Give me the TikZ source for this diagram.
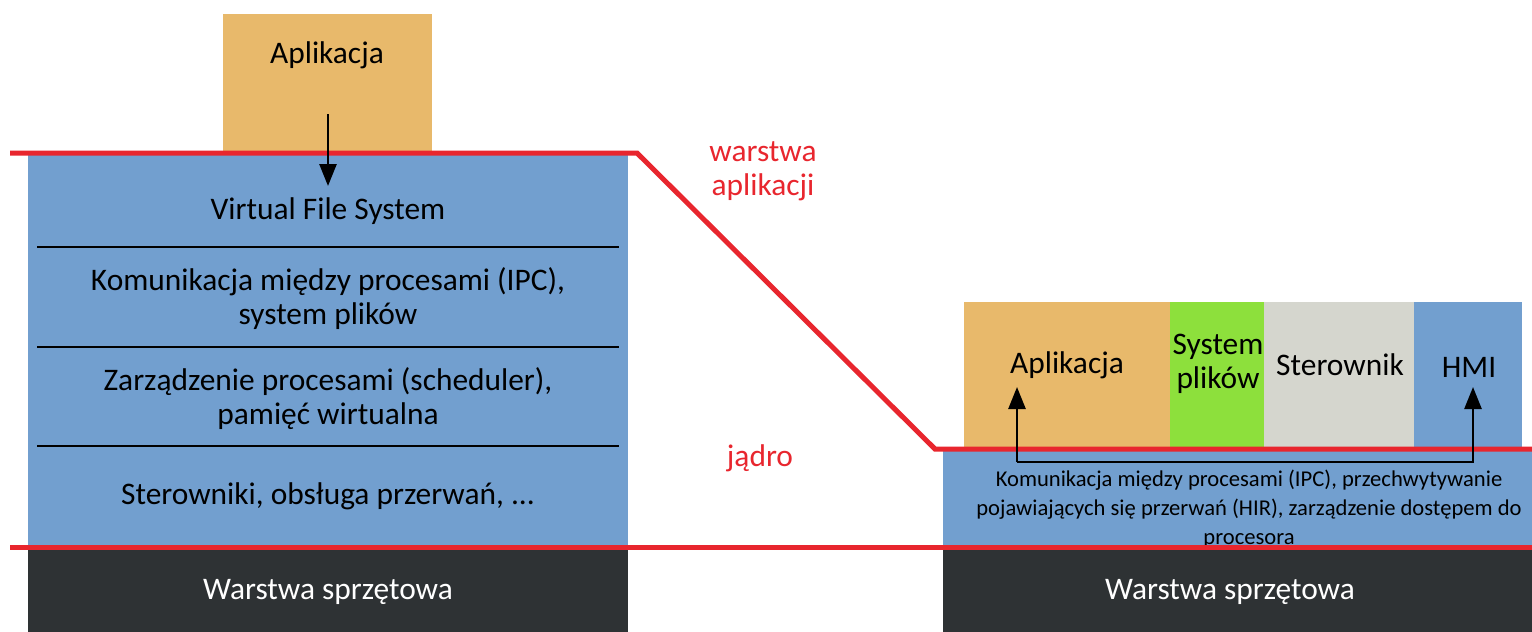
\documentclass[tikz,border=0pt]{standalone}
\usepackage{fontspec}
\setmainfont{Carlito}
\usetikzlibrary{arrows.meta}
\definecolor{appor}{HTML}{E8B96B}
\definecolor{kblue}{HTML}{729FCF}
\definecolor{fsgreen}{HTML}{8DE03C}
\definecolor{drvgray}{HTML}{D5D6CE}
\definecolor{hwdark}{HTML}{2E3234}
\definecolor{lred}{HTML}{E8262E}
\tikzset{
  blk/.style={draw=none, inner sep=0pt, outer sep=0pt, anchor=north west},
  txt/.style={font=\fontsize{15.7}{17}\selectfont, align=center, inner sep=1pt},
  smalltxt/.style={font=\fontsize{11.3}{14.5}\selectfont, align=center, inner sep=1pt},
  redtxt/.style={txt, text=lred},
  redline/.style={draw=lred, line width=2.5pt},
  sepline/.style={draw=black, line width=0.9pt},
  arr/.style={draw=black, line width=1.3pt, -{Triangle[length=11pt,width=8.5pt]}},
}
\begin{document}
\begin{tikzpicture}[x=0.5pt, y=-0.5pt]
\useasboundingbox (0,0) rectangle (1532,632);
% left column
\node[blk, fill=appor, minimum width=104.5pt, minimum height=69pt] (appbox) at (223,14) {};
\node[txt] (apptxt) at (327,55) {Aplikacja};
\node[blk, fill=kblue, minimum width=300pt, minimum height=196pt] (kernelL) at (28,153) {};
\node[blk, fill=hwdark, minimum width=300pt, minimum height=42pt] (hwL) at (28,548) {};
\node[txt, text=white] (hwLtxt) at (328,592) {Warstwa sprzętowa};
\node[txt] (vfs) at (328,211) {Virtual File System};
\node[txt] (ipc) at (328,299) {Komunikacja między procesami (IPC),\\system plików};
\node[txt] (sched) at (328,399) {Zarządzenie procesami (scheduler),\\pamięć wirtualna};
\node[txt] (drv) at (328,496) {Sterowniki, obsługa przerwań, ...};
\coordinate (s1a) at (37,247); \coordinate (s1b) at (619,247);
\coordinate (s2a) at (37,347); \coordinate (s2b) at (619,347);
\coordinate (s3a) at (37,446); \coordinate (s3b) at (619,446);
\draw[sepline] (s1a) -- (s1b);
\draw[sepline] (s2a) -- (s2b);
\draw[sepline] (s3a) -- (s3b);
% right column
\node[blk, fill=appor, minimum width=103pt, minimum height=74pt] (appR) at (964,302) {};
\node[blk, fill=fsgreen, minimum width=47pt, minimum height=74pt] (fsR) at (1170,302) {};
\node[blk, fill=drvgray, minimum width=75pt, minimum height=74pt] (drvR) at (1264,302) {};
\node[blk, fill=kblue, minimum width=54pt, minimum height=74pt] (hmiR) at (1414,302) {};
\node[txt] (appRtxt) at (1067,365) {Aplikacja};
\node[txt] (fsRtxt) at (1218,364) {System\\plików};
\node[txt] (drvRtxt) at (1340,365) {Sterownik};
\node[txt] (hmiRtxt) at (1469,367) {HMI};
\node[blk, fill=kblue, minimum width=294.5pt, minimum height=49pt] (kernelR) at (943,449) {};
\node[smalltxt] (kernRtxt) at (1249,509) {Komunikacja między procesami (IPC), przechwytywanie\\pojawiających się przerwań (HIR), zarządzenie dostępem do\\procesora};
\node[blk, fill=hwdark, minimum width=294.5pt, minimum height=42pt] (hwR) at (943,548) {};
\node[txt, text=white] (hwRtxt) at (1230,592) {Warstwa sprzętowa};
% red boundary lines
\coordinate (r1) at (10,153); \coordinate (r2) at (637,153);
\coordinate (r3) at (935,449); \coordinate (r4) at (1532,449);
\coordinate (b1) at (10,547); \coordinate (b2) at (1532,547);
\draw[redline] (r1) -- (r2) -- (r3) -- (r4);
\draw[redline] (b1) -- (b2);
\node[redtxt] (wapp) at (763,171) {warstwa\\aplikacji};
\node[redtxt] (jadro) at (760,458) {jądro};
% arrows
\coordinate (a0) at (328,114);
\coordinate (a1) at (328,186);
\draw[arr] (a0) -- (a1);
\coordinate (ka) at (1017,462); \coordinate (kb) at (1473,462);
\coordinate (kat) at (1017,387); \coordinate (kbt) at (1473,387);
\draw[arr] (ka) -- (kb) -- (kbt);
\draw[arr] (ka) -- (kat);
\end{tikzpicture}
\end{document}
